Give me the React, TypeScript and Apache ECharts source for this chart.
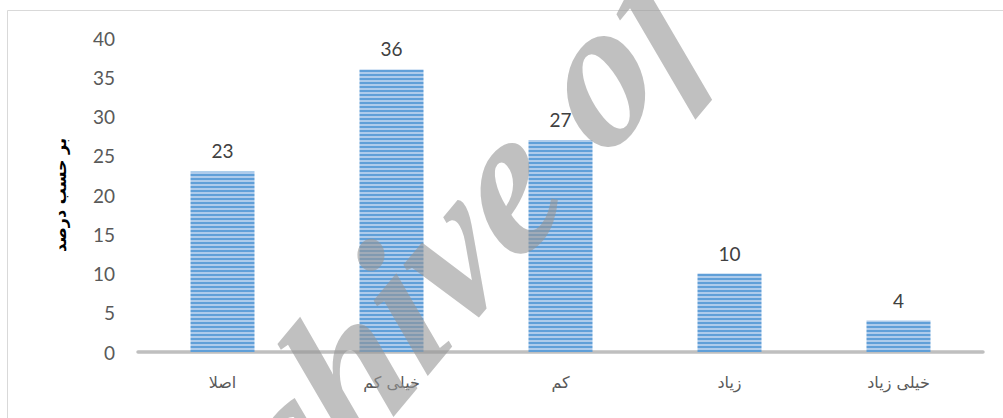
import React, { useEffect, useRef } from "react";
import * as echarts from "echarts";

const categories = ["اصلا", "خیلی کم", "کم", "زیاد", "خیلی زیاد"];
const values = [23, 36, 27, 10, 4];
const yTicks = { min: 0, max: 40, interval: 5 };
const yAxisName = "بر حسب درصد";
const watermarkText = "Archive of SID";

function stripeGradient(top: number, bottom: number) {
  const period = 4;
  const stops: { offset: number; color: string }[] = [];
  const h = bottom - top;
  const dark = "#609fd8";
  const light = "#aecbeb";
  for (let y = 0; y < h; y += period) {
    const a = y / h;
    const b = Math.min((y + period / 2) / h, 1);
    const c = Math.min((y + period) / h, 1);
    stops.push({ offset: a, color: dark });
    stops.push({ offset: b, color: dark });
    stops.push({ offset: b, color: light });
    stops.push({ offset: c, color: light });
  }
  return new echarts.graphic.LinearGradient(0, top, 0, bottom, stops, true);
}

const numFont = "Lato";

export default function App() {
  const ref = useRef<HTMLDivElement>(null);
  useEffect(() => {
    if (!ref.current) return;
    const chart = echarts.init(ref.current, null, { renderer: "svg" });
    const gridTop = 38;
    const gridBottom = 66;
    chart.setOption({
      animation: false,
      grid: { left: 138, right: 20, top: gridTop, bottom: gridBottom },
      graphic: [
        {
          type: "rect",
          shape: { x: 7.5, y: 10.5, width: 1010, height: 430 },
          style: { fill: "none", stroke: "#d9d9d9", lineWidth: 1 },
          z: -10,
        },
        {
          type: "group",
          x: 0,
          y: 0,
          scaleX: 1,
          scaleY: 1.2,
          z: 100,
          children: [
            {
              type: "text",
              x: 120,
              y: 535,
              rotation: 0.785,
              z: 100,
              style: {
                text: watermarkText,
                font: "italic bold 180px 'Liberation Serif'",
                fill: "rgba(150,150,150,0.6)",
                verticalAlign: "middle",
                align: "left",
              },
            },
          ],
        },
      ],
      xAxis: {
        type: "category",
        data: categories,
        axisLine: { show: true, lineStyle: { color: "#bfbfbf", width: 3.5 } },
        axisTick: { show: false },
        axisLabel: {
          margin: 22,
          fontFamily: "DejaVu Sans",
          fontSize: 16,
          color: "#595959",
        },
      },
      yAxis: {
        type: "value",
        min: yTicks.min,
        max: yTicks.max,
        interval: yTicks.interval,
        name: yAxisName,
        nameLocation: "middle",
        nameRotate: 90,
        nameGap: 70,
        nameTextStyle: {
          fontFamily: "DejaVu Sans",
          fontWeight: "bold",
          fontSize: 16,
          color: "#000",
        },
        axisLine: { show: false },
        axisTick: { show: false },
        splitLine: { show: false },
        axisLabel: {
          margin: 23,
          fontFamily: numFont,
          fontSize: 19,
          color: "#595959",
        },
      },
      series: [
        {
          type: "bar",
          data: values,
          barWidth: 64,
          itemStyle: {
            color: stripeGradient(gridTop, 418 - gridBottom),
          },
          label: {
            show: true,
            position: "top",
            distance: 11,
            fontFamily: numFont,
            fontSize: 19,
            color: "#404040",
          },
        },
      ],
    });
    return () => chart.dispose();
  }, []);
  return (
    <div
      ref={ref}
      style={{ position: "absolute", left: 0, top: 0, width: 1003, height: 418, background: "#fff" }}
    />
  );
}
